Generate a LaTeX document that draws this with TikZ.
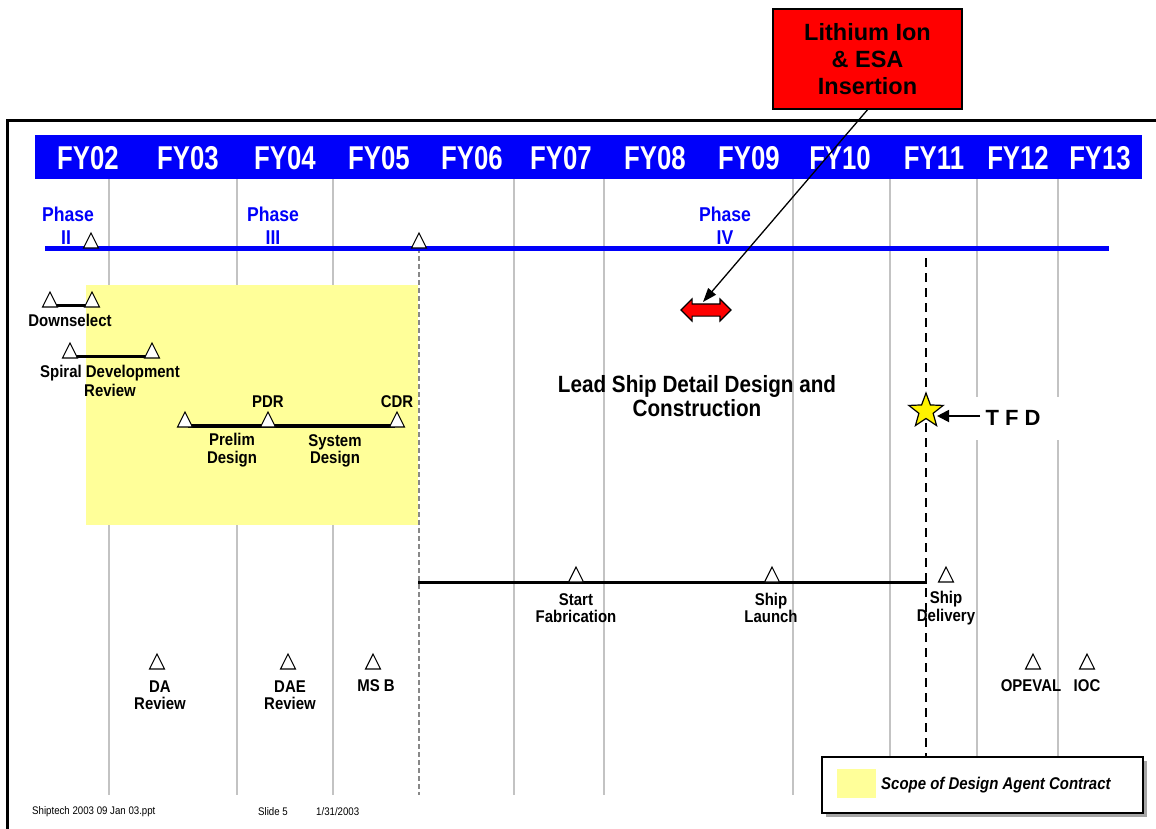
\documentclass[tikz,border=0pt]{standalone}
\usepackage{fontspec}
\setmainfont{Liberation Sans}
\newfontfamily\nf{Liberation Sans}[FakeStretch=0.88]
\newfontfamily\fyf{Liberation Sans}[FakeStretch=0.78]
\usetikzlibrary{shapes.geometric,shapes.arrows,arrows.meta}
\definecolor{hdrblue}{RGB}{0,0,250}
\definecolor{scopey}{RGB}{255,255,153}
\definecolor{gridgray}{RGB}{195,195,195}
\tikzset{
  fy/.style={text=white,font=\fyf\bfseries\fontsize{33}{33}\selectfont,inner sep=0},
  phase/.style={text=hdrblue,font=\nf\bfseries\fontsize{20}{23}\selectfont,align=center,inner sep=0},
  lbl/.style={font=\nf\bfseries\fontsize{17}{17.5}\selectfont,align=center,inner sep=0},
  gridline/.style={gridgray,line width=1.4pt},
  bar/.style={black,line width=3pt},
  tri/.pic={\draw[fill=white,line width=1.1pt] (-7.5,0) -- (0,-15) -- (7.5,0) -- cycle;},
}
\begin{document}
\begin{tikzpicture}[x=1pt,y=-1pt]
\useasboundingbox (0,0) rectangle (1156,828);
\fill[white] (0,0) rectangle (1156,828);
% frame
\draw[line width=3pt] (1156,120) -- (7,120) -- (7,830);
% header
\fill[hdrblue] (35,135) rectangle (1142,179);
\foreach \x/\t in {88/FY02,188/FY03,285/FY04,379/FY05,472/FY06,561/FY07,655/FY08,749/FY09,840/FY10,934/FY11,1018/FY12,1100/FY13}
  \node[fy] (\t) at (\x,158) {\t};
% grid lines
\foreach \x in {109,237,333,514,604,793,890,977,1058}
  \draw[gridline] (\x,179) -- (\x,795);
% yellow scope
\fill[scopey] (86,285) rectangle (418,525);
% dashed gray
\draw[gridgray!70!black,line width=1.4pt,dash pattern=on 5pt off 3pt] (419,248) -- (419,795);
% phase line
\draw[hdrblue,line width=5pt] (45,248) -- (1109,248);
\node[phase] (ph2) at (68,226) {Phase\\II\hspace*{4pt}};
\node[phase] (ph3) at (273,226) {Phase\\III};
\node[phase] (ph4) at (725,226) {Phase\\IV};
\pic at (91,248) {tri};
\pic at (419,248) {tri};
% Downselect
\coordinate (ds1) at (50,305); \coordinate (ds2) at (92,305);
\draw[bar] (ds1) -- (ds2);
\pic at (50,307) {tri}; \pic at (92,307) {tri};
\node[lbl] (dsl) at (70,320) {Downselect};
% Spiral
\coordinate (sp1) at (70,356); \coordinate (sp2) at (152,356);
\draw[bar] (sp1) -- (sp2);
\pic at (70,358) {tri}; \pic at (152,358) {tri};
\node[lbl] (spl) at (110,373) {Spiral Development};
\node[lbl] (spl2) at (110,390) {Review};
% Prelim / System design
\coordinate (pd1) at (188,426); \coordinate (pd2) at (395,426);
\draw[black,line width=4.5pt] (pd1) -- (pd2);
\pic at (185,427) {tri}; \pic at (268,427) {tri}; \pic at (397,427) {tri};
\node[lbl] (pdr) at (268,402) {PDR};
\node[lbl] (cdr) at (397,402) {CDR};
\node[lbl] (pre) at (232,450) {Prelim\\Design};
\node[lbl] (sys) at (335,451) {System\\Design};
% Lead ship text
\node[font=\nf\bfseries\fontsize{23.5}{24}\selectfont,align=center,inner sep=0] (lead) at (697,396) {Lead Ship Detail Design and\\Construction};
% red double arrow
\node[double arrow,fill=red,draw=black,line width=1.1pt,minimum height=50pt,inner xsep=0pt,inner ysep=5.5pt,double arrow head extend=5pt] (dar) at (706,310) {};
% red box
\node[draw=black,line width=1.5pt,fill=red,minimum width=189pt,minimum height=100pt,align=center,inner sep=0,font=\bfseries\fontsize{23.5}{27}\selectfont] (lith) at (867.5,59) {Lithium Ion\\\& ESA\\Insertion};
\draw[line width=1.3pt,-{Triangle[length=14pt,width=10pt]}] (lith.south) -- (703,302);
% TFD
\draw[black,line width=2.5pt,dash pattern=on 9pt off 6pt] (926,258) -- (926,757);
\node[star,star points=5,star point ratio=2.4,minimum size=36pt,inner sep=0,fill=yellow,draw=black,line width=1.2pt] (star) at (926,411) {};
\node[fill=white,minimum width=98pt,minimum height=43pt,inner sep=0,font=\bfseries\fontsize{22}{22}\selectfont] (tfd) at (1013,418) {T F D};
\coordinate (tfdarr) at (980,416);
\draw[line width=2pt,-{Triangle[length=12pt,width=12pt]}] (tfdarr) -- (star.east |- tfdarr);
% Fabrication line
\coordinate (fb1) at (418,582); \coordinate (fb2) at (927,582);
\draw[bar] (fb1) -- (fb2);
\pic at (576,582) {tri}; \pic at (772,582) {tri}; \pic at (946,582) {tri};
\node[lbl] (sf) at (576,608) {Start\\Fabrication};
\node[lbl] (sl) at (771,608) {Ship\\Launch};
\node[lbl] (sd) at (946,608) {Ship\\Delivery};
% bottom milestones
\pic at (157,669) {tri}; \node[lbl] (da) at (160,695) {DA\\Review};
\pic at (288,669) {tri}; \node[lbl] (dae) at (290,695) {DAE\\Review};
\pic at (373,669) {tri}; \node[lbl] (msb) at (376,686) {MS B};
\pic at (1033,669) {tri}; \node[lbl] (opv) at (1031,686) {OPEVAL};
\pic at (1087,669) {tri}; \node[lbl] (ioc) at (1087,686) {IOC};
% legend
\fill[gray!70] (826,761) rectangle (1147,817);
\node[draw=black,line width=1.3pt,fill=white,minimum width=321pt,minimum height=56pt,inner sep=0] (leg) at (982.5,785) {};
\fill[scopey] (837,769) rectangle (876,798);
\node[font=\nf\bfseries\itshape\fontsize{17}{17}\selectfont,anchor=west,inner sep=0] (legt) at (881,785) {Scope of Design Agent Contract};
% footer
\node[font=\nf\fontsize{11}{11}\selectfont,anchor=west,inner sep=0] (f1) at (32,812) {Shiptech 2003 09 Jan 03.ppt};
\node[font=\nf\fontsize{11}{11}\selectfont,anchor=west,inner sep=0] (f2) at (258,812) {Slide 5};
\node[font=\nf\fontsize{11}{11}\selectfont,anchor=west,inner sep=0] (f3) at (316,812) {1/31/2003};
\end{tikzpicture}
\end{document}
